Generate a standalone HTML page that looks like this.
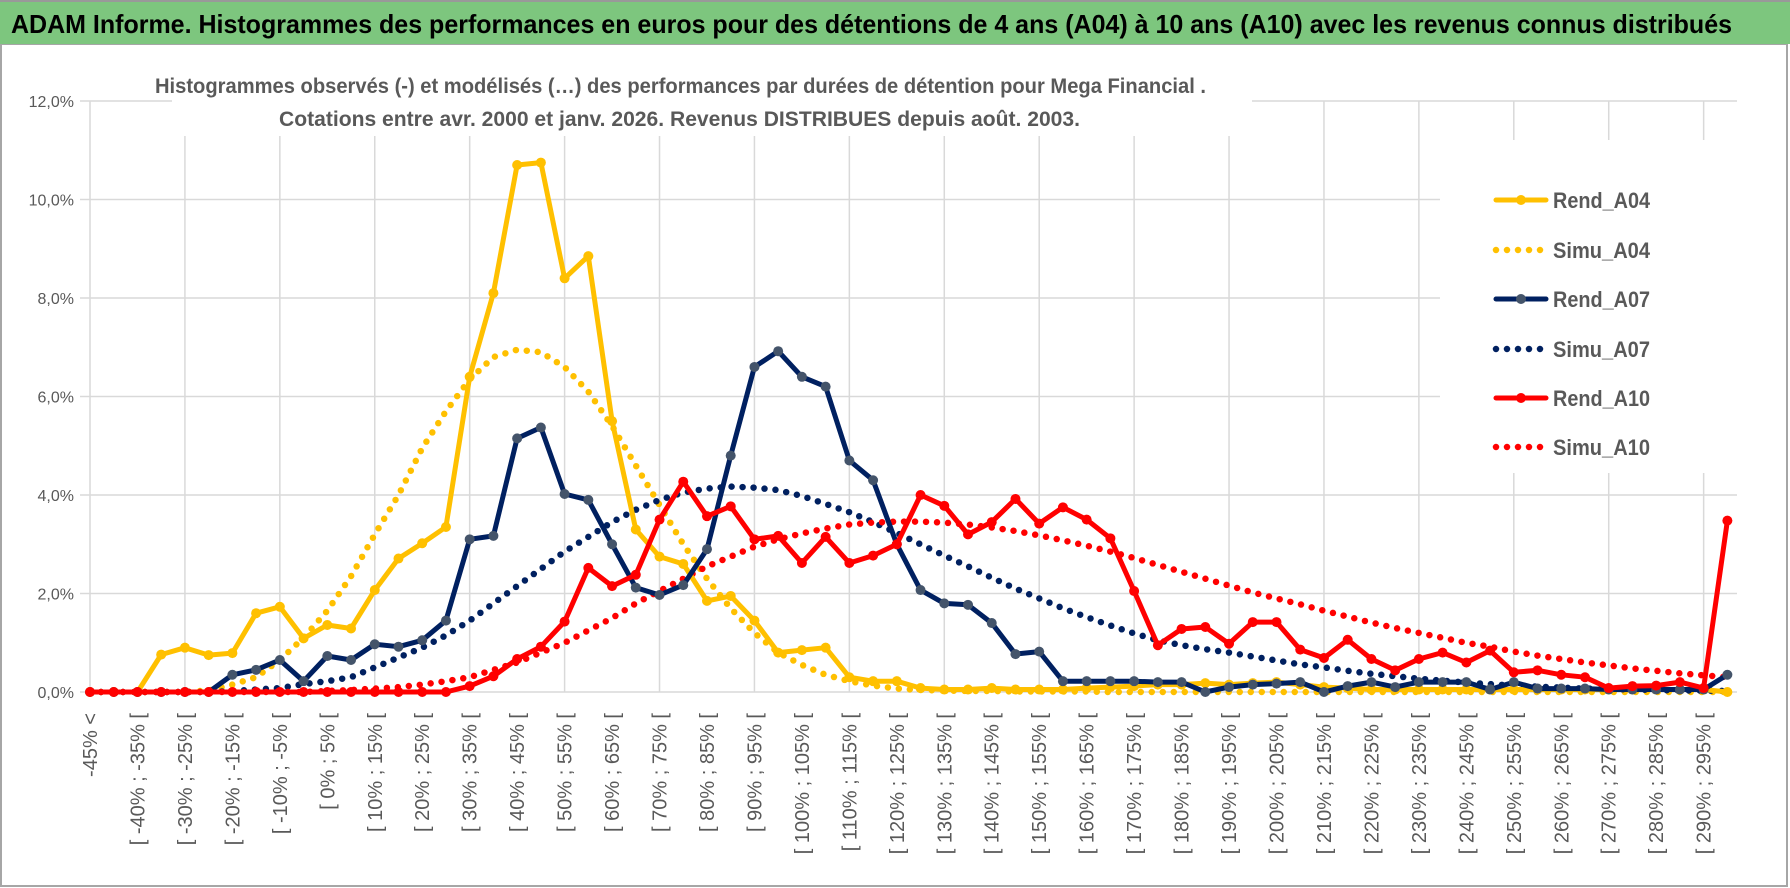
<!DOCTYPE html>
<html><head><meta charset="utf-8"><style>
html,body{margin:0;padding:0;background:#fff;}
svg{display:block;font-family:"Liberation Sans",sans-serif;}
</style></head><body>
<svg id="chart" width="1790" height="888" viewBox="0 0 1790 888" xmlns="http://www.w3.org/2000/svg">
<rect x="1" y="44" width="1786" height="842" fill="#fff" stroke="#a6a6a6" stroke-width="2"/>
<rect x="0" y="0" width="1790" height="44" fill="#7dc67e"/>
<line x1="0" y1="1" x2="1790" y2="1" stroke="#999" stroke-width="2"/>
<text x="11" y="33" font-size="26" font-weight="bold" fill="#000" textLength="1721" lengthAdjust="spacingAndGlyphs">ADAM Informe. Histogrammes des performances en euros pour des détentions de 4 ans (A04) à 10 ans (A10) avec les revenus connus distribués</text>
<g id="grid"></g>
<rect x="172" y="60" width="1080" height="76" fill="#fff"/>
<rect x="1440" y="140" width="300" height="333" fill="#fff"/>
<text x="155" y="93" font-size="21" font-weight="bold" fill="#595959" textLength="1051" lengthAdjust="spacingAndGlyphs">Histogrammes observés (-) et modélisés (…) des performances par durées de détention pour Mega Financial .</text>
<text x="279" y="126" font-size="21" font-weight="bold" fill="#595959" textLength="801" lengthAdjust="spacingAndGlyphs">Cotations entre avr. 2000 et janv. 2026. Revenus DISTRIBUES depuis août. 2003.</text>
<g id="yaxis"></g>
<g id="xaxis"></g>
<g id="series"></g>
<g id="legend"></g>
</svg>
<script>
const yTicks = [0,2,4,6,8,10,12];
const yTickLabels = ["0,0%","2,0%","4,0%","6,0%","8,0%","10,0%","12,0%"];
const categories = ["-45% <"];
for (let k = 0; k < 69; k++) { const a = -45 + 5*k; categories.push("[ " + a + "% ; " + (a+5) + "% ["); }
const rendA04 = [0,0,0,0.76,0.9,0.75,0.79,1.6,1.73,1.09,1.36,1.29,2.07,2.71,3.02,3.35,6.4,8.1,10.7,10.75,8.4,8.85,5.5,3.3,2.75,2.6,1.85,1.95,1.45,0.8,0.85,0.9,0.3,0.22,0.22,0.08,0.05,0.05,0.08,0.05,0.05,0.05,0.08,0.1,0.12,0.15,0.15,0.18,0.15,0.18,0.2,0.15,0.1,0.08,0.05,0.05,0.05,0.05,0.05,0.05,0.05,0.05,0.05,0.05,0.05,0.05,0.05,0.05,0.05,0];
const simuA04 = [0,0,0,0,0,0.03,0.15,0.3,0.65,1.1,1.65,2.35,3.2,4.0,4.95,5.7,6.35,6.8,6.95,6.9,6.6,6.1,5.4,4.6,3.8,3.0,2.3,1.7,1.2,0.8,0.55,0.35,0.22,0.13,0.07,0.04,0.03,0.02,0.02,0.01,0.01,0.01,0.01,0,0,0,0,0,0,0,0,0,0,0,0,0,0,0,0,0,0,0,0,0,0,0,0,0,0,0];
const rendA07 = [0,0,0,0,0,0,0.35,0.45,0.65,0.22,0.73,0.65,0.97,0.92,1.05,1.45,3.1,3.17,5.15,5.37,4.02,3.9,3.0,2.12,1.97,2.17,2.9,4.8,6.6,6.92,6.4,6.2,4.7,4.3,3.0,2.07,1.8,1.77,1.4,0.77,0.82,0.22,0.22,0.22,0.22,0.2,0.2,0.0,0.1,0.15,0.17,0.2,0.0,0.12,0.2,0.1,0.2,0.2,0.2,0.05,0.2,0.07,0.07,0.07,0.05,0.05,0.05,0.05,0.05,0.35];
const simuA07 = [0,0,0,0,0,0,0.02,0.05,0.08,0.16,0.22,0.3,0.5,0.7,0.9,1.15,1.45,1.8,2.15,2.5,2.85,3.15,3.45,3.7,3.9,4.05,4.13,4.17,4.15,4.1,3.98,3.82,3.65,3.45,3.23,3.0,2.77,2.55,2.32,2.1,1.9,1.7,1.52,1.35,1.19,1.05,0.95,0.87,0.8,0.72,0.64,0.56,0.5,0.43,0.37,0.32,0.27,0.23,0.19,0.16,0.13,0.11,0.09,0.07,0.06,0.05,0.04,0.03,0.03,0.02];
const rendA10 = [0,0,0,0,0,0,0,0,0,0,0,0,0,0,0,0,0.12,0.32,0.67,0.92,1.43,2.52,2.15,2.38,3.5,4.27,3.57,3.77,3.1,3.17,2.62,3.15,2.62,2.77,3.0,4.0,3.78,3.2,3.45,3.92,3.42,3.75,3.5,3.12,2.05,0.95,1.28,1.32,0.98,1.42,1.42,0.86,0.69,1.06,0.67,0.44,0.67,0.8,0.6,0.84,0.4,0.44,0.35,0.3,0.08,0.12,0.13,0.2,0.08,3.48];
const simuA10 = [0,0,0,0,0,0,0,0,0,0,0.02,0.04,0.07,0.1,0.15,0.22,0.3,0.45,0.6,0.8,1.0,1.25,1.5,1.8,2.05,2.3,2.55,2.75,2.95,3.1,3.22,3.32,3.4,3.44,3.46,3.46,3.44,3.4,3.34,3.27,3.18,3.08,2.97,2.85,2.72,2.58,2.44,2.3,2.16,2.02,1.9,1.78,1.65,1.53,1.41,1.3,1.2,1.1,1.0,0.92,0.82,0.74,0.67,0.6,0.54,0.48,0.43,0.38,0.34,0.3];
const seriesNames = ["Rend_A04","Simu_A04","Rend_A07","Simu_A07","Rend_A10","Simu_A10"];

const NS = "http://www.w3.org/2000/svg";
const X0 = 90, DX = 23.73, Y0 = 692, PX = 49.25;
function xs(i){ return X0 + i*DX; }
function ys(v){ return Y0 - v*PX; }
function mk(tag, attrs, parent){ const e = document.createElementNS(NS, tag); for (const k in attrs) e.setAttribute(k, attrs[k]); parent.appendChild(e); return e; }

const grid = document.getElementById('grid');
yTicks.forEach((t) => {
  const l = mk('line', {x1: 80, x2: 1737, y1: ys(t), y2: ys(t), stroke: '#d9d9d9', 'stroke-width': 1.5}, grid);
  
  
});
for (let i = 0; i < categories.length; i += 4) {
  const l = mk('line', {x1: xs(i), x2: xs(i), y1: ys(12), y2: Y0, stroke: '#d9d9d9', 'stroke-width': 1.5}, grid);
  
  
}
const ya = document.getElementById('yaxis');
yTicks.forEach((t, k) => {
  const tx = mk('text', {x: 74, y: ys(t) + 6, 'text-anchor': 'end', 'font-size': 16, fill: '#595959'}, ya);
  tx.textContent = yTickLabels[k];
  
  
});
const xa = document.getElementById('xaxis');
categories.forEach((c, i) => {
  if (i % 2) return;
  const x = xs(i) + 7, y = 713;
  const tx = mk('text', {x: x, y: y, 'text-anchor': 'end', 'font-size': 20, fill: '#595959', transform: `rotate(-90 ${x} ${y})`}, xa);
  tx.textContent = c;
  
  
});

const sg = document.getElementById('series');
function pts(arr){ return arr.map((v, i) => xs(i).toFixed(1) + ',' + ys(v).toFixed(1)).join(' '); }
function dotted(arr, color, name){
  const p = mk('polyline', {points: pts(arr), fill: 'none', stroke: color, 'stroke-width': 6.5, 'stroke-linecap': 'round', 'stroke-dasharray': '0 11'}, sg);
  
  
}
function solid(arr, color, mcolor, name){
  const g = mk('g', {}, sg);
  
  
  mk('polyline', {points: pts(arr), fill: 'none', stroke: color, 'stroke-width': 5, 'stroke-linejoin': 'round'}, g);
  arr.forEach((v, i) => {
    const c = mk('circle', {cx: xs(i), cy: ys(v), r: 5, fill: mcolor}, g);
    
    
  });
}
dotted(simuA04, '#ffc000', 'simu-a04-line');
dotted(simuA07, '#002060', 'simu-a07-line');
dotted(simuA10, '#ff0000', 'simu-a10-line');
solid(rendA04, '#ffc000', '#ffc000', 'rend-a04-line');
solid(rendA07, '#002060', '#44546a', 'rend-a07-line');
solid(rendA10, '#ff0000', '#ff0000', 'rend-a10-line');

const lg = document.getElementById('legend');
const legY = [200, 250, 299, 349, 398, 447];
const legC = ['#ffc000','#ffc000','#002060','#002060','#ff0000','#ff0000'];
const legM = ['#ffc000',null,'#44546a',null,'#ff0000',null];
seriesNames.forEach((n, k) => {
  const g = mk('g', {}, lg);
  
  
  const y = legY[k];
  if (legM[k]) {
    mk('line', {x1: 1496, x2: 1546, y1: y, y2: y, stroke: legC[k], 'stroke-width': 5, 'stroke-linecap': 'round'}, g);
    mk('circle', {cx: 1521, cy: y, r: 5, fill: legM[k]}, g);
  } else {
    mk('line', {x1: 1496, x2: 1546, y1: y, y2: y, stroke: legC[k], 'stroke-width': 6.5, 'stroke-linecap': 'round', 'stroke-dasharray': '0 11'}, g);
  }
  const t = mk('text', {x: 1553, y: y + 8, 'font-size': 22, 'font-weight': 'bold', fill: '#595959', textLength: 97, lengthAdjust: 'spacingAndGlyphs'}, g);
  t.textContent = n;
});
</script>
</body></html>
